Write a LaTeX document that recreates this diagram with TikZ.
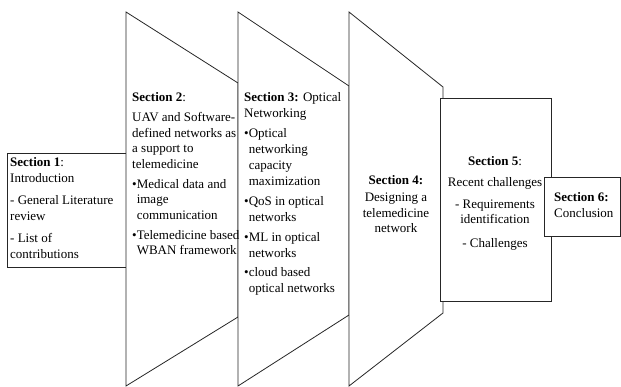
\documentclass[tikz,border=0pt]{standalone}
\usepackage{fontspec}
\setmainfont{Liberation Serif}
\usepackage{tikz}
\usetikzlibrary{shapes,arrows,positioning}
\newcommand{\sangria}{\hphantom{•}}
\tikzstyle{seccion} = [draw=black!85, line width=0.8pt, fill=white]
\tikzstyle{caja} = [draw=black!85, line width=1pt, fill=white]
\tikzstyle{texto} = [inner sep=0pt, anchor=north west, align=left, font=\fontsize{13}{15.5}\selectfont]
\tikzstyle{textocentro} = [texto, anchor=north, align=center]
\begin{document}
\begin{tikzpicture}[x=1pt,y=-1pt]
	\useasboundingbox (0,0) rectangle (621,387);
	\draw[caja, line width=0.8pt] (7,153) rectangle (126,267);
	\draw[seccion] (126,12) -- (238,83) -- (238,317) -- (126,386) -- cycle;
	\draw[seccion] (238,12) -- (349,86) -- (349,315) -- (238,386) -- cycle;
	\draw[seccion] (349,12) -- (443,87) -- (443,313) -- (349,386) -- cycle;
	\draw[caja] (440,99) rectangle (551,302);
	\draw[caja] (544,178) rectangle (620,237);
	\node[texto] (sec1) at (10,157.5) {\textbf{Section 1}:\\Introduction\\[7pt]- General Literature\\review\\[7pt]- List of\\contributions};
	\node[texto] (sec2) at (132,92.5) {\textbf{Section 2}:\\[4.5pt]UAV and Software-\\defined networks as\\a support to\\telemedicine\\[4.5pt]•Medical data and\\\sangria image\\\sangria communication\\[4.5pt]•Telemedicine based\\\sangria WBAN framework};
	\node[texto, font=\fontsize{13}{16}\selectfont] (sec3) at (244,92.5) {\textbf{Section 3:} Optical\\Networking\\[4pt]•Optical\\\sangria networking\\\sangria capacity\\\sangria maximization\\[4pt]•QoS in optical\\\sangria networks\\[4pt]•ML in optical\\\sangria networks\\[3pt]•cloud based\\\sangria optical networks};
	\node[textocentro] (sec4) at (396,175.5) {\textbf{Section 4:}\\[1.5pt]Designing a\\telemedicine\\network};
	\node[textocentro, font=\fontsize{13}{15}\selectfont] (sec5) at (495,156.5) {\textbf{Section 5}:\\[6pt]Recent challenges\\[7pt]- Requirements\\identification\\[9pt]- Challenges};
	\node[texto, font=\fontsize{13}{16}\selectfont] (sec6) at (554,192.5) {\textbf{Section 6:}\\Conclusion};
\end{tikzpicture}
\end{document}
